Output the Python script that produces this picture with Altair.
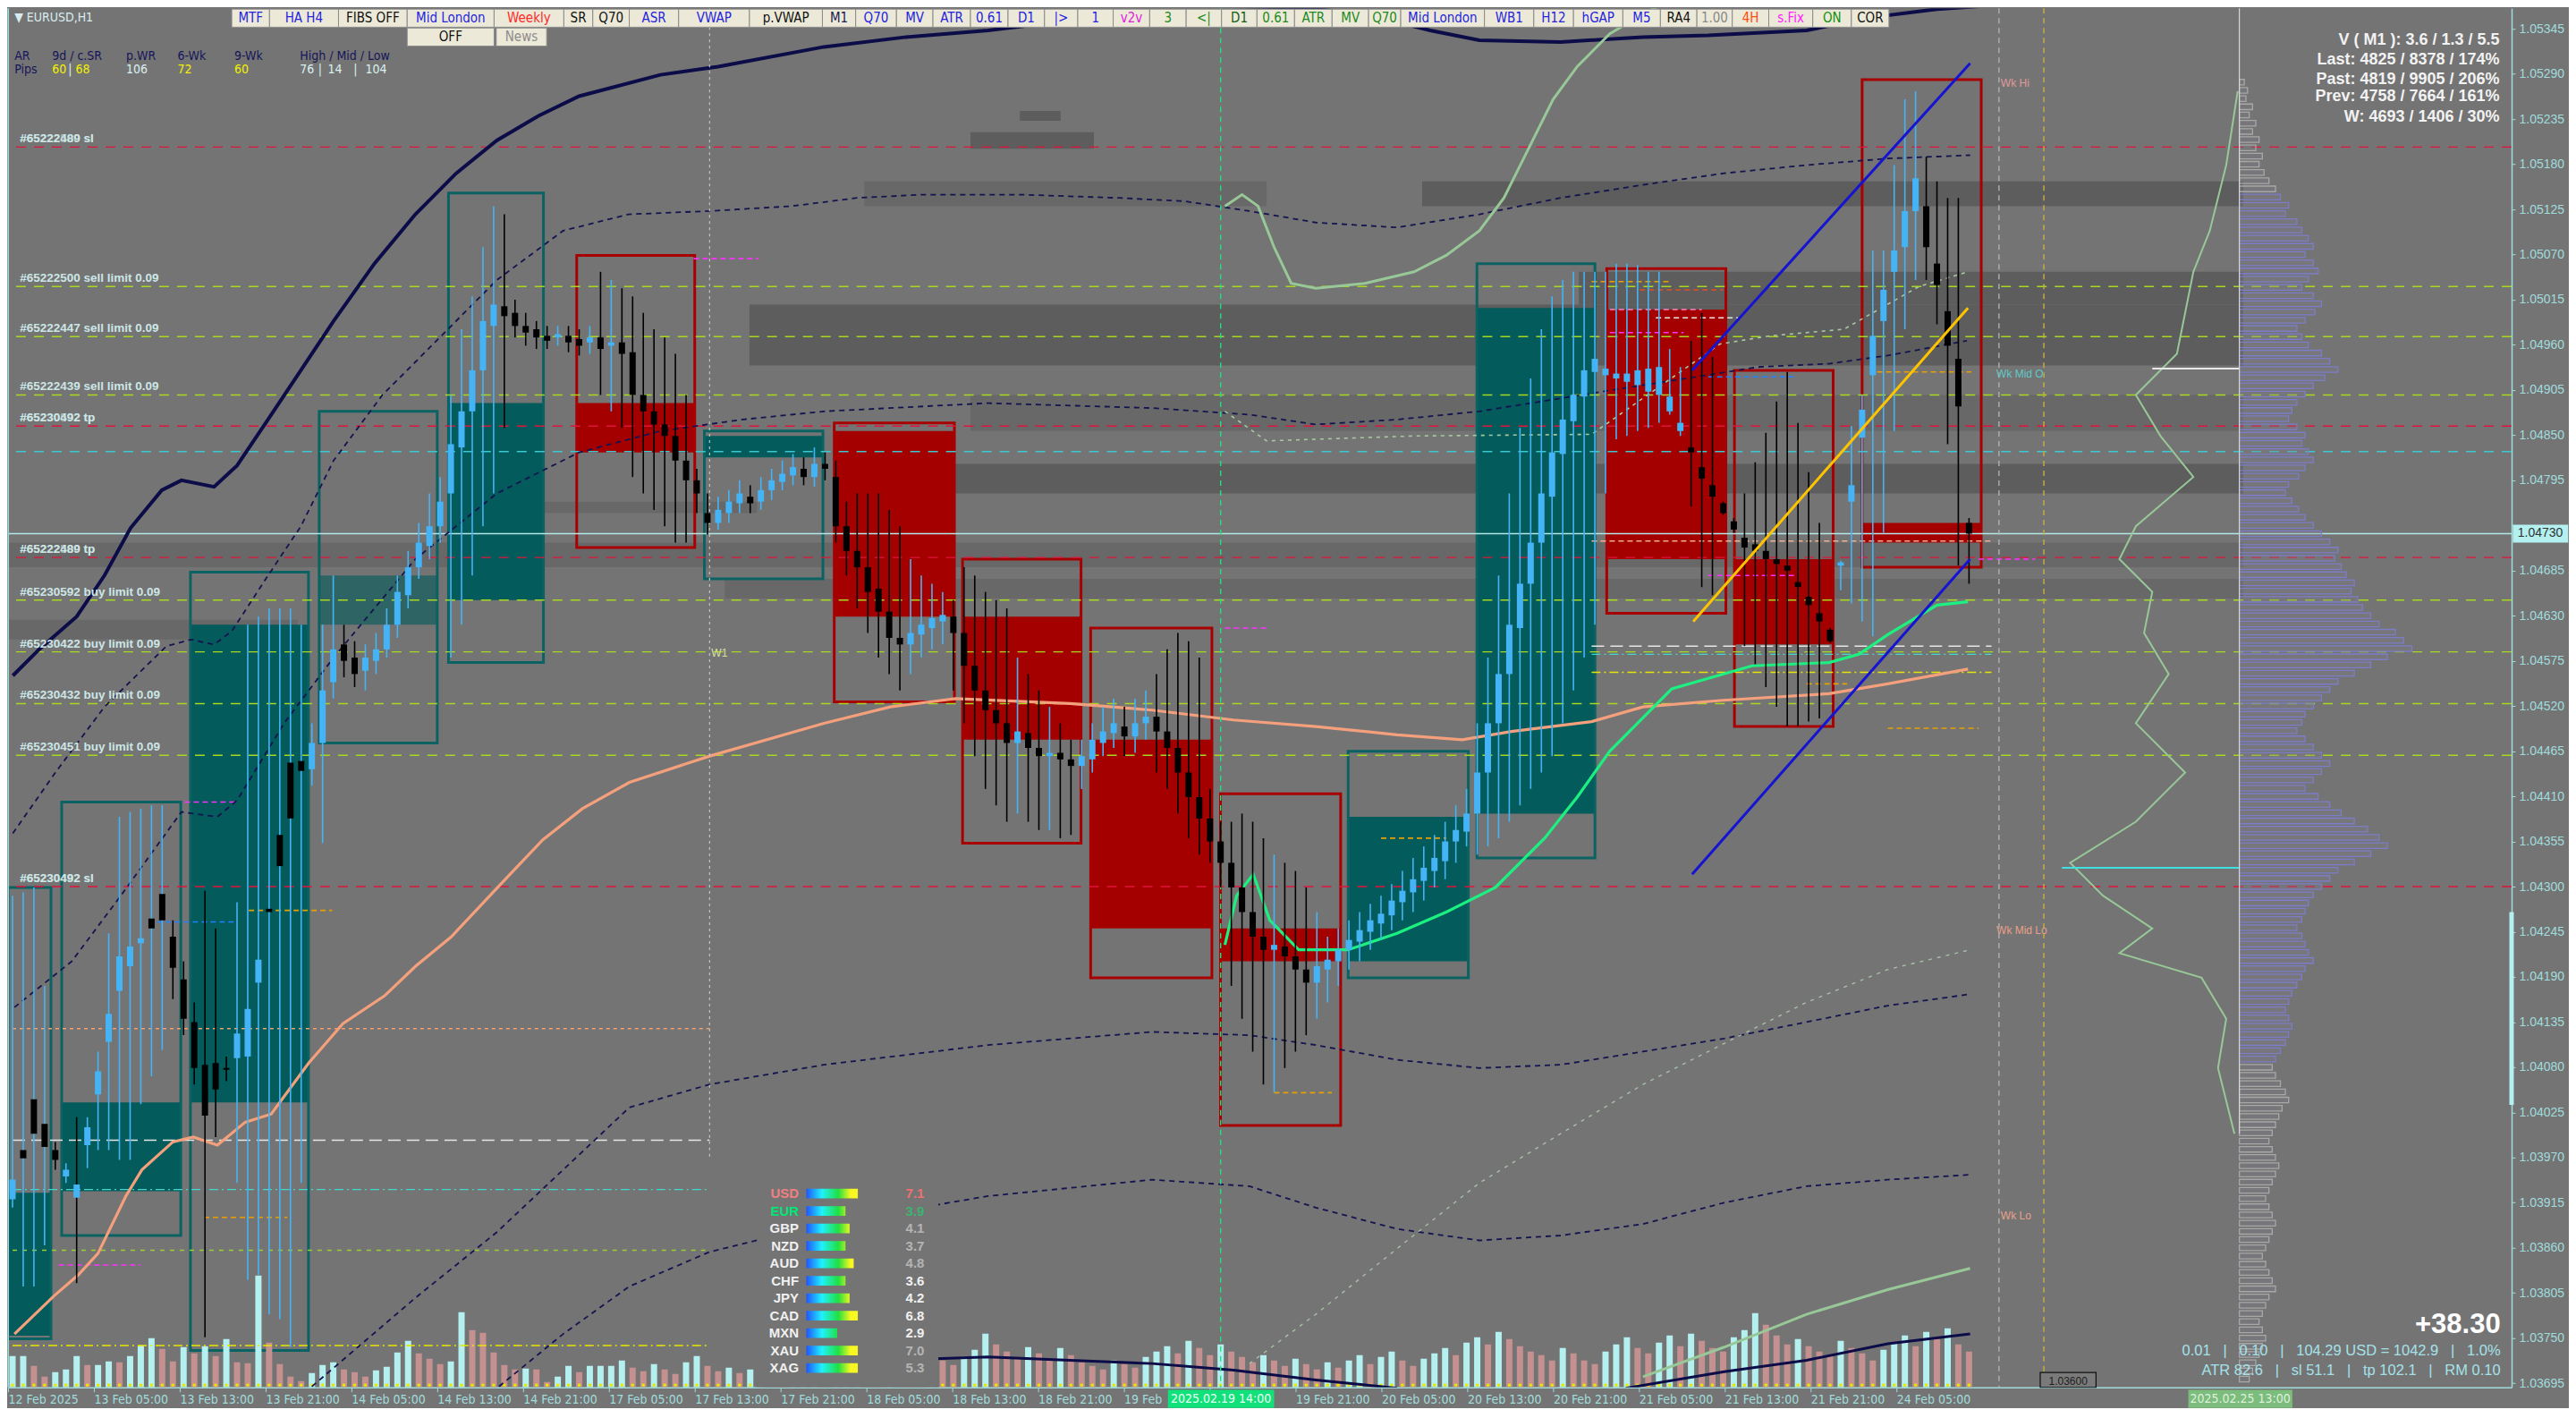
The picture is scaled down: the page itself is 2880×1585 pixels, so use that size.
import altair as alt
import numpy as np
import pandas as pd

W, H = 2800, 1542
X_DOM = [0.0, 233.333]
Y_DOM = [1.03690, 1.05370]
BG = "#747474"
AXC = "#a0dcdc"
NARROW = "Liberation Sans Narrow, DejaVu Sans Condensed, sans-serif"
SANS = "Liberation Sans, DejaVu Sans, sans-serif"
BLUE = "#45b4f6"
NB = "\u00a0"

# ---------------- data: EURUSD H1 candles (prices in points, 1e-5) ----------------
c_open = [103919,103979,104041,104011,103979,103947,103921,103985,104047,104111,
 104173,104203,104231,104261,104291,104239,104187,104135,104083,104085,
 104079,104091,104093,104183,104273,104363,104451,104453,104443,104475,
 104549,104595,104579,104563,104575,104589,104619,104655,104689,104715,
 104739,104779,104835,104879,104929,104983,105007,104999,104983,104979,
 104971,104969,104971,104967,104963,104969,104959,104963,104951,104899,
 104879,104863,104849,104819,104795,104755,104743,104755,104767,104775,
 104769,104783,104793,104801,104809,104799,104815,104799,104739,104709,
 104689,104663,104635,104603,104595,104607,104615,104623,104629,104609,
 104569,104539,104515,104499,104475,104487,104469,104459,104463,104455,
 104447,104455,104475,104487,104495,104483,104499,104507,104489,104469,
 104439,104409,104383,104355,104329,104299,104269,104239,104223,104227,
 104215,104199,104183,104199,104209,104223,104233,104245,104255,104265,
 104281,104293,104307,104319,104331,104355,104367,104389,104439,104499,
 104559,104615,104669,104719,104775,104827,104867,104897,104927,104923,
 104919,104915,104911,104903,104899,104879,104855,104835,104811,104789,
 104767,104745,104725,104717,104709,104699,104691,104671,104653,104633,
 104613,104691,104769,104847,104923,104989,105049,105079,105123,105129,
 105059,105001,104943,104743]
c_high = [104289,104293,104299,104179,103989,103963,104019,104019,104099,104243,
 104385,104391,104395,104399,104399,104259,104209,104159,104295,104249,
 104093,104281,104619,104629,104639,104639,104639,104619,104499,104619,
 104679,104619,104599,104595,104609,104639,104679,104709,104743,104779,
 104799,104899,104979,105019,105079,105129,105119,105015,104999,104989,
 104983,104983,104983,104979,104983,105049,105039,105029,105019,104999,
 104979,104969,104949,104899,104809,104779,104775,104783,104795,104789,
 104799,104809,104819,104827,104823,104835,104829,104819,104769,104779,
 104779,104779,104759,104739,104699,104679,104669,104659,104649,104689,
 104679,104659,104649,104639,104579,104559,104539,104519,104499,104479,
 104479,104499,104519,104529,104519,104529,104539,104559,104589,104609,
 104599,104579,104419,104379,104379,104389,104379,104359,104339,104329,
 104319,104299,104269,104239,104249,104259,104269,104279,104289,104303,
 104319,104335,104349,104363,104379,104399,104419,104499,104579,104679,
 104779,104859,104919,104979,105019,105039,105049,105049,105049,105049,
 105059,105059,105057,105049,105049,104955,104933,104965,104999,104945,
 104769,104749,104779,104817,104853,104891,104927,104865,104805,104743,
 104615,104697,104861,104899,105075,105075,105179,105259,105269,105189,
 105159,105139,105139,104749]
c_low = [103909,103813,103813,103863,103955,103939,103817,103957,103979,103979,
 103967,103967,104035,104069,104101,104163,104119,104059,103751,103995,
 104063,103939,103821,103827,103779,103773,103739,103939,104423,104353,
 104529,104555,104543,104539,104559,104579,104603,104639,104675,104699,
 104719,104579,104619,104679,104739,104779,104859,104969,104959,104955,
 104955,104959,104951,104947,104949,104899,104879,104859,104799,104779,
 104759,104739,104719,104719,104755,104729,104735,104743,104755,104755,
 104759,104771,104783,104789,104789,104787,104795,104719,104679,104639,
 104609,104579,104559,104539,104559,104579,104589,104595,104539,104499,
 104459,104419,104399,104379,104389,104379,104369,104369,104359,104363,
 104419,104439,104459,104469,104459,104463,104479,104439,104419,104389,
 104359,104339,104329,104299,104179,104139,104099,104059,104049,104079,
 104099,104119,104139,104159,104179,104199,104209,104223,104235,104247,
 104259,104269,104283,104299,104309,104329,104349,104339,104349,104359,
 104379,104399,104419,104439,104459,104499,104539,104579,104619,104779,
 104845,104849,104855,104859,104865,104875,104849,104763,104665,104655,
 104753,104731,104593,104571,104543,104519,104495,104495,104501,104505,
 104597,104661,104645,104623,104605,104731,104855,104979,105039,105039,
 104985,104839,104691,104669]
c_close = [103943,103969,103999,103983,103967,103955,103937,104007,104075,104145,
 104215,104227,104237,104249,104259,104201,104139,104079,104021,104053,
 104077,104121,104151,104211,104269,104325,104383,104441,104475,104539,
 104589,104575,104559,104579,104589,104619,104659,104689,104719,104739,
 104769,104839,104879,104929,104989,105009,104995,104983,104975,104969,
 104965,104973,104963,104959,104969,104955,104963,104949,104899,104879,
 104863,104849,104819,104795,104779,104743,104759,104769,104779,104767,
 104783,104795,104803,104811,104799,104815,104809,104739,104709,104689,
 104659,104635,104603,104595,104609,104619,104627,104631,104609,104569,
 104539,104515,104499,104475,104489,104469,104459,104463,104455,104447,
 104459,104479,104489,104499,104483,104499,104507,104489,104469,104439,
 104409,104383,104355,104329,104299,104269,104239,104223,104229,104215,
 104199,104183,104203,104211,104223,104235,104247,104259,104267,104283,
 104295,104309,104323,104335,104355,104369,104389,104439,104499,104559,
 104619,104669,104719,104779,104829,104869,104899,104929,104943,104931,
 104925,104925,104929,104931,104933,104897,104865,104829,104797,104775,
 104755,104735,104713,104709,104699,104693,104685,104665,104643,104623,
 104599,104695,104789,104881,104971,105027,105075,105123,105163,105079,
 105033,104959,104885,104730]
# bars whose wick is drawn in the other colour than the body
blue_wick_bars = [1, 2, 3, 13, 14, 24, 25, 26, 27]
black_wick_bars = [6]
# tick volume per bar (relative units)
volume = [35,35,24,12,17,20,35,25,25,29,28,35,47,55,43,29,45,38,46,35,
 54,28,27,125,50,26,12,7,16,25,28,20,17,12,19,23,39,52,38,32,
 26,29,84,64,61,39,25,20,21,20,6,12,24,17,24,24,24,
 30,22,18,26,20,15,28,35,24,18,22,16,20,25,
 18,14,20,26,30,22,38,45,52,40,35,48,42,30,28,36,30,25,34,42,
 60,48,40,32,45,38,30,44,36,28,24,20,30,26,22,34,40,46,38,52,44,36,
 48,40,34,28,36,30,24,32,26,20,28,22,30,36,26,34,40,30,24,32,38,44,36,50,
 56,48,62,54,46,40,36,30,44,38,30,26,40,48,56,44,38,50,58,46,60,52,44,40,
 56,64,83,70,58,48,54,46,40,36,52,44,38,30,42,50,58,46,62,54,66,48,40]

time_ticks = [0,8,16,24,32,40,48,56,64,72,80,88,96,104,112,120,128,136,144,152,160,168,176]
# as visible on the time axis (the 19 Feb labels are partly covered by the cursor-time box)
time_labels = ["12 Feb 2025","13 Feb 05:00","13 Feb 13:00","13 Feb 21:00","14 Feb 05:00",
 "14 Feb 13:00","14 Feb 21:00","17 Feb 05:00","17 Feb 13:00","17 Feb 21:00","18 Feb 05:00",
 "18 Feb 13:00","18 Feb 21:00","19 Feb","","19 Feb 21:00","20 Feb 05:00",
 "20 Feb 13:00","20 Feb 21:00","21 Feb 05:00","21 Feb 13:00","21 Feb 21:00","24 Feb 05:00"]
price_ticks = [1.03695,1.03750,1.03805,1.03860,1.03915,1.03970,1.04025,1.04080,1.04135,1.04190,
 1.04245,1.04300,1.04355,1.04410,1.04465,1.04520,1.04575,1.04630,1.04685,1.04740,1.04795,
 1.04850,1.04905,1.04960,1.05015,1.05070,1.05125,1.05180,1.05235,1.05290,1.05345]

# session boxes: bar start/end, box top/bottom, filled zone top/bottom (points)
box_x0 = [0.0,5.0,17.0,29.0,41.05,64.9,124.9,136.9, 53.0,77.0,88.96,100.9,113.0,149.0,160.9,172.8]
box_x1 = [4.0,16.1,28.0,40.0,49.9,75.95,136.1,147.9, 64.0,88.2,100.0,112.2,124.2,160.1,170.1,183.9]
box_top = [104299,104403,104683,104879,105145,104855,104465,105059, 105069,104865,104699,104615,104413,105053,104929,105283]
box_bot = [103749,103875,103735,104475,104573,104675,104189,104335, 104713,104525,104353,104189,104009,104633,104495,104689]
box_ftop = [103927,104037,104619,104679,104889,104849,104385,105005, 104889,104855,104629,104479,104249,105003,104699,104743]
box_fbot = [103753,103929,104037,104619,104649,104823,104209,104389, 104829,104629,104479,104249,104209,104699,104595,104719]
box_kind = ["teal"]*3 + ["teal_l"] + ["teal"]*4 + ["red"]*8

# darker price-zone bands: bar start/end, top/bottom (points), shade
band_x0 = [79.8,131.8,146.4,69.1,89.7,88.2,0.0,0.0,66.8,89.7,94.3,48.4]
band_x1 = [117.3,208.3,208.3,208.3,208.3,208.3,208.3,27.0,208.3,101.2,98.1,69.8]
band_top = [105159,105159,105049,105009,104899,104815,104719,104625,104675,105219,105245,104769]
band_bot = [105129,105129,105009,104935,104855,104779,104689,104601,104651,105199,105233,104755]
band_shade = ["m","s","s","s","m","s","m","m","m","s","s","m"]

# pending orders
ord_price = [1.05201,1.05031,1.04970,1.04899,1.04861,1.04830,1.04701,1.04649,1.04586,1.04523,1.04460,1.04300]
ord_kind = ["sl","limit","limit","limit","tp","cyan","tp","limit","limit","limit","limit","sl"]
ord_text = ["#65222489 sl","#65222500 sell limit 0.09","#65222447 sell limit 0.09","#65222439 sell limit 0.09",
 "#65230492 tp","","#65222489 tp","#65230592 buy limit 0.09","#65230422 buy limit 0.09",
 "#65230432 buy limit 0.09","#65230451 buy limit 0.09","#65230492 sl"]
ord_ghost = ["#65222500 sl","","","","#65230592 tp","","#65222500 tp","","","","","#65230432 sl"]
last_price = 1.04730

# session levels: (bar start, bar end, price points, colour, dash)
lvl_x0 = [0.0,0.0,0.0,0.0,0.0, 147.7,147.7,147.7,147.7]
lvl_x1 = [65.2,65.2,65.2,65.2,65.2, 185.1,185.1,185.1,185.1]
lvl_p = [103991,104127,103931,103857,103741, 104593,104583,104561,104721]
lvl_c = ["#e6e6e6","#f0a070","#40d8d0","#9acd32","#e6e600", "#e6e6e6","#40d8d0","#e6e600","#f0b090"]
lvl_d = [[14,7],[4,4],[10,4,2,4],[5,6],[10,4,2,4], [14,7],[10,4,2,4],[10,4,2,4],[6,4]]
# short marker levels
seg_x0 = [22.1,17.9,16.1,4.3,13.5,147.7,152.2,149.4,153.7,149.4,158.6,174.4,158.6,183.9,167.8,175.4,63.7,118.0,128.0,113.4]
seg_x1 = [29.9,25.7,21.0,12.0,20.9,154.9,160.0,158.0,161.4,156.3,166.7,183.2,166.7,189.2,171.6,183.9,69.8,123.4,134.1,117.3]
seg_p = [104271,103897,104403,103839,104257,105037,105027,105003,104993,104975,104921,104927,104679,104699,104547,104493,105065,104049,104359,104615]
seg_c = ["#e8a000","#e8a000","#ff30ff","#ff30ff","#2080ff","#e8a000","#e05020","#ff80c0","#e6e6e6","#ff30ff",
 "#2080ff","#e8a000","#ff30ff","#ff30ff","#e8a000","#e8a000","#ff30ff","#e8a000","#e8a000","#ff30ff"]

# indicator curves (bar, points)
navy_x = [0.03,2.48,6.0,8.6,11.05,13.96,15.8,18.85,21.0,23.9,26.97,30.03,33.85,37.68,41.5,45.3,49.2,53.0,60.6,66.0,75.9,83.6,91.25,98.9,106.6,114.2,121.9,126.5,132.6,137.2,144.8,152.5,158.6,167.8,173.9,180.0,184.6]
navy_p = [104557,104589,104629,104679,104737,104783,104795,104787,104813,104869,104929,104989,105059,105119,105169,105209,105239,105263,105289,105299,105323,105335,105343,105355,105363,105367,105369,105363,105343,105331,105329,105335,105337,105343,105359,105369,105373]
dashA_x = [0.03,4.01,8.6,14.4,16.7,18.85,20.5,23.9,26.97,30.03,34.6,39.2,45.3,51.5,57.6,65.2,72.9,79.0,85.1,94.3,103.5,109.6,115.7,121.9,129.5,137.2,144.8,152.5,160.1,167.8,175.4,183.1]
dashA_p = [104365,104439,104519,104593,104601,104595,104611,104679,104739,104819,104899,104959,105039,105099,105119,105123,105129,105139,105143,105143,105139,105135,105123,105109,105103,105119,105139,105155,105169,105179,105187,105191]
dashB_x = [0.18,5.54,10.13,15.8,19.16,21.0,25.4,30.03,37.68,45.3,53.0,60.6,68.3,75.9,91.25,106.6,115.7,121.9,129.5,137.2,147.7,163.3,169.9,175.4,182.8]
dashB_p = [104153,104209,104289,104391,104385,104405,104499,104579,104699,104779,104829,104855,104869,104879,104889,104883,104875,104863,104869,104879,104901,104933,104937,104947,104965]
dashC_x = [28.0,37.68,45.3,51.5,57.7,65.2,75.9,91.25,106.6,115.7,121.9,129.5,137.2,144.8,152.5,160.1,167.8,175.4,183.1]
dashC_p = [103691,103799,103879,103955,104031,104059,104083,104107,104123,104119,104107,104089,104079,104083,104099,104115,104135,104155,104169]
dashD_x = [45.5,51.5,57.7,65.2,75.9,91.25,106.6,115.7,121.9,129.5,137.2,144.8,152.5,160.1,167.8,175.4,183.1]
dashD_p = [103691,103755,103813,103855,103889,103923,103943,103935,103909,103883,103869,103875,103889,103915,103935,103943,103949]
navyLo1_x = [82.1,91.25,98.9,106.6,114.2,121.9,129.5]
navyLo1_p = [103723,103727,103723,103719,103711,103699,103689]
navyLo2_x = [150.9,160.1,167.8,175.4,183.1]
navyLo2_p = [103689,103709,103723,103743,103755]
salmon_x = [0.18,3.85,6.15,7.99,10.6,12.1,15.0,16.9,19.16,21.76,24.2,27.7,30.9,34.8,37.7,41.05,45.95,49.6,53.3,57.7,65.2,75.9,82.1,88.2,98.9,106.6,114.2,121.9,129.5,135.6,140.2,147.7,152.5,160.0,169.9,175.4,182.9]
salmon_p = [103755,103801,103827,103853,103923,103955,103989,103995,103985,104013,104023,104085,104133,104167,104203,104239,104307,104357,104395,104427,104459,104499,104519,104529,104523,104515,104503,104495,104485,104479,104489,104501,104519,104527,104535,104547,104565]
green_x = [113.4,114.5,116.05,117.6,120.3,124.9,129.5,134.1,138.7,143.3,146.35,149.4,155.2,162.7,169.9,172.7,175.4,180.0,182.9]
green_p = [104229,104289,104315,104259,104223,104223,104243,104269,104299,104359,104409,104465,104541,104569,104573,104583,104607,104643,104647]
paleTop_x = [113.4,115.0,116.5,118.0,119.6,121.9,126.5,131.1,134.1,137.2,139.5,141.8,144.1,146.35,149.4,152.5,154.0]
paleTop_p = [105129,105143,105129,105079,105035,105029,105035,105049,105069,105099,105139,105199,105259,105299,105339,105363,105373]
paleBot_x = [152.5,160.1,167.8,175.4,183.1]
paleBot_p = [103703,103739,103779,103809,103835]
paleDashLo_x = [115.7,121.9,129.5,137.2,144.8,152.5,160.1,167.8,175.4,183.1]
paleDashLo_p = [103719,103779,103859,103939,103999,104059,104109,104159,104199,104223]
paleDashHi_x = [113.4,117.3,131.1,147.7,159.7,164.4,171.3,178.3,182.9]
paleDashHi_p = [104879,104843,104849,104851,104961,104971,104979,105031,105049]
trendUp_x, trendUp_p = [157.1,183.1], [104929,105303]
trendLo_x, trendLo_p = [157.1,183.1], [104315,104699]
trendYel_x, trendYel_p = [157.2,182.9], [104623,105005]

# volume-at-price profile (1-pip levels from 1.05280 down)
prof_len = [3,5,4,8,6,10,8,12,10,14,12,15,
 18,22,25,30,28,35,38,42,45,40,
 45,48,42,38,45,50,46,40,35,38,42,50,55,60,52,45,40,35,
 32,30,35,40,38,42,45,40,36,30,28,32,36,40,45,50,
 55,60,58,62,65,70,68,72,75,80,85,95,100,105,90,80,70,60,
 55,50,45,40,38,35,40,45,50,55,50,45,40,48,55,62,70,78,85,90,80,70,
 60,55,50,45,42,40,38,35,38,40,42,45,40,38,35,32,30,28,30,32,30,28,25,22,
 20,22,25,28,30,26,24,22,20,18,20,22,24,22,20,18,16,18,20,22,20,18,16,14,16,18,20,22,18,16,14,12,14,16,14,12,10,8,6]
prof_curve_u = [-1,-8,-18,-28,-33,-38,-63,-48,-28,-63,-73,-53,-58,-43,-63,-33,-63,-103,-83,-53,-73,-23,-8,-13,-3]
prof_curve_p = [105269,105179,105099,105049,104999,104949,104899,104849,104799,104739,104699,104659,104609,104559,104499,104439,104379,104329,104289,104249,104219,104189,104139,104079,103999]

# currency strength table
cur_names = ["USD","EUR","GBP","NZD","AUD","CHF","JPY","CAD","MXN","XAU","XAG"]
cur_vals = ["7.1","3.9","4.1","3.7","4.8","3.6","4.2","6.8","2.9","7.0","5.3"]
cur_frac = [1.0,0.76,0.84,0.76,0.92,0.76,0.84,1.0,0.6,1.0,1.0]
cur_lcol = ["#f08080","#00e676"] + ["#f0f0f0"]*9
cur_vcol = ["#f07070","#3cb371","#b4b4b4","#b4b4b4","#b4b4b4","#f0f0f0","#f0f0f0","#f0f0f0","#f0f0f0","#b4b4b4","#b4b4b4"]

stats_lines = ["V ( M1 ): 3.6 / 1.3 / 5.5","Last: 4825 / 8378 / 174%","Past: 4819 / 9905 / 206%",
 "Prev: 4758 / 7664 / 161%","W: 4693 / 1406 / 30%"]
acct_pnl = "+38.30"
SEP = NB * 2 + " | " + NB * 2
acct_line1 = SEP.join(["0.01", "0.10", "104.29 USD = 1042.9", "1.0%"])
acct_line2 = SEP.join(["ATR 82.6", "sl 51.1", "tp 102.1", "RM 0.10"])

btn_labels = ["MTF","HA H4","FIBS OFF","Mid London","Weekly","SR","Q70","ASR","VWAP","p.VWAP","M1","Q70","MV","ATR",
 "0.61","D1","|>","1","v2v","3","<|","D1","0.61","ATR","MV","Q70","Mid London","WB1","H12","hGAP","M5","RA4",
 "1.00","4H","s.Fix","ON","COR","OFF","News"]
btn_x0 = [20.85,24.37,30.8,37.2,45.3,51.8,54.5,57.9,62.5,69.1,75.9,79.0,82.8,86.2,89.7,93.2,96.6,99.7,103.0,106.4,
 109.8,113.1,116.4,119.9,123.4,126.8,129.8,137.6,142.2,145.9,150.5,154.0,157.4,160.7,164.1,168.2,171.8,37.2,45.5]
btn_x1 = [24.37,30.8,37.2,45.3,51.8,54.5,57.9,62.5,69.1,75.9,79.0,82.8,86.2,89.7,93.2,96.6,99.7,103.0,106.4,109.8,
 113.1,116.4,119.9,123.4,126.8,129.8,137.6,142.2,145.9,150.5,154.0,157.4,160.7,164.1,168.2,171.8,175.3,45.3,50.2]
BB, BK, GR = "#2424e0", "#101010", "#1c8a1c"
btn_col = [BB,BB,BK,BB,"#ff2a2a",BK,BK,BB,BB,BK,"#202050",BB,BB,BB,BB,BB,BB,BB,"#e020e0",GR,GR,"#106010",GR,GR,GR,GR,
 BB,BB,BB,BB,BB,BK,"#8a8a8a","#ff4a10","#ff20ff","#109010",BK,BK,"#8c8c8c"]
btn_row = [0]*37 + [1, 1]

# ---------------- scales & helpers ----------------
xs = alt.Scale(domain=X_DOM, nice=False, zero=False)
ys = alt.Scale(domain=Y_DOM, nice=False, zero=False)
vs = alt.Scale(domain=[0, H], nice=False, zero=True)
ps = alt.Scale(domain=[-120, 120], range=[2275, 2716], nice=False, zero=False)


def X(f):
    return alt.X(f"{f}:Q", scale=xs, axis=None)


def Y(f):
    return alt.Y(f"{f}:Q", scale=ys, axis=None)


def pts(a):
    return np.array(a, dtype=float) / 1e5


def line(xv, pv, color, width=2.0, dash=None, opacity=1.0):
    df = pd.DataFrame({"x": xv, "y": pts(pv), "k": np.arange(len(xv))})
    kw = dict(color=color, strokeWidth=width, clip=True, opacity=opacity)
    if dash:
        kw["strokeDash"] = dash
    return alt.Chart(df).mark_line(**kw).encode(x=X("x"), y=Y("y"), order="k:Q")


def texts(df, **kw):
    return alt.Chart(df).mark_text(**kw).encode(
        x=X("x"), y=Y("y"), text="t:N", color=alt.Color("c:N", scale=None))


# ---------------- axes (own group) ----------------
label_expr = "[" + ",".join("'%s'" % s for s in time_labels) + "][round(datum.value/8)]"
x_axis = alt.Axis(values=time_ticks, labelExpr=label_expr, orient="bottom", labelAlign="left",
                  labelColor=AXC, tickColor=AXC, domainColor=AXC, labelFont=NARROW, labelFontSize=14,
                  tickSize=5, labelPadding=2, labelOverlap=False, labelFlush=False, grid=False,
                  title=None, domainWidth=1.5)
# the 1.04740 label sits under the last-price box
y_expr = "abs(datum.value - %.5f) < 0.000001 ? '' : format(datum.value, '.5f')" % 1.04740
y_axis = alt.Axis(values=price_ticks, labelExpr=y_expr, orient="right", labelColor=AXC, tickColor=AXC,
                  domainColor=AXC, labelFont=SANS, labelFontSize=14, tickSize=4, labelPadding=4,
                  labelOverlap=False, labelFlush=False, grid=False, title=None, domainWidth=1.5)
axis_df = pd.DataFrame({"x": [X_DOM[0] + 1, X_DOM[1] - 1], "y": [Y_DOM[0] + 0.0001, Y_DOM[1] - 0.0001]})
axis_layer = alt.Chart(axis_df).mark_point(size=1, opacity=0).encode(
    x=alt.X("x:Q", scale=xs, axis=x_axis), y=alt.Y("y:Q", scale=ys, axis=y_axis))

# ---------------- under layer (bands, boxes) ----------------
bands = pd.DataFrame({"x0": band_x0, "x1": band_x1, "y0": pts(band_top), "y1": pts(band_bot),
                      "c": ["#5d5d5d" if s == "s" else "#686868" for s in band_shade]})
band_layer = alt.Chart(bands).mark_rect(clip=True).encode(
    x=X("x0"), x2="x1:Q", y=Y("y0"), y2="y1:Q", color=alt.Color("c:N", scale=None))

boxes = pd.DataFrame({"x0": box_x0, "x1": box_x1, "t": pts(box_top), "b": pts(box_bot),
                      "ft": pts(box_ftop), "fb": pts(box_fbot), "k": box_kind})
fill_map = {"teal": "#035b5b", "teal_l": "#2f6464", "red": "#a40000"}
line_map = {"teal": "#0b6262", "teal_l": "#0b6262", "red": "#a80000"}
boxes["fc"] = boxes.k.map(fill_map)
boxes["lc"] = boxes.k.map(line_map)
box_fill = alt.Chart(boxes).mark_rect(clip=True).encode(
    x=X("x0"), x2="x1:Q", y=Y("ft"), y2="fb:Q", color=alt.Color("fc:N", scale=None))
box_line = alt.Chart(boxes).mark_rect(clip=True, filled=False, strokeWidth=3).encode(
    x=X("x0"), x2="x1:Q", y=Y("t"), y2="b:Q", stroke=alt.Stroke("lc:N", scale=None))
under = alt.layer(band_layer, box_fill, box_line)

# ---------------- volume layer ----------------
vol = pd.DataFrame({"i": np.arange(len(volume)), "v": volume})
vol["c"] = np.where(vol.v >= vol.v.shift(1).fillna(0), "#b4f0f0", "#c49090")
vol["base"] = 2.5
vol_bars = alt.Chart(vol).mark_bar(size=7, clip=True).encode(
    x=X("i"), y=alt.Y("v:Q", scale=vs, axis=None), color=alt.Color("c:N", scale=None))
vol_dots = alt.Chart(vol).mark_square(size=10, color="#e8e800", opacity=1).encode(
    x=X("i"), y=alt.Y("base:Q", scale=vs, axis=None))
vol_layer = alt.layer(vol_bars, vol_dots)

# ---------------- over layer (lines, candles) ----------------
over_layers = []
for x0, x1, p, c, d in zip(lvl_x0, lvl_x1, lvl_p, lvl_c, lvl_d):
    df = pd.DataFrame({"x0": [x0], "x1": [x1], "y": [p / 1e5]})
    over_layers.append(alt.Chart(df).mark_rule(color=c, strokeDash=d, strokeWidth=1.4, clip=True).encode(
        x=X("x0"), x2="x1:Q", y=Y("y")))
segs = pd.DataFrame({"x0": seg_x0, "x1": seg_x1, "y": pts(seg_p), "c": seg_c})
over_layers.append(alt.Chart(segs).mark_rule(strokeDash=[6, 4], strokeWidth=1.6, clip=True).encode(
    x=X("x0"), x2="x1:Q", y=Y("y"), color=alt.Color("c:N", scale=None)))

orders = pd.DataFrame({"y": ord_price, "k": ord_kind})
ord_colors = {"sl": "#e0143c", "tp": "#e0143c", "limit": "#a8d820", "cyan": "#3cc8d0"}
orders["c"] = orders.k.map(ord_colors)
over_layers.append(alt.Chart(orders).mark_rule(strokeDash=[11, 9], strokeWidth=1.4).encode(
    y=Y("y"), color=alt.Color("c:N", scale=None)))
over_layers.append(alt.Chart(pd.DataFrame({"y": [last_price]})).mark_rule(
    color="#b4e8e8", strokeWidth=1.3).encode(y=Y("y")))

over_layers += [
    line(dashA_x, dashA_p, "#141450", 1.8, [6, 5]),
    line(dashB_x, dashB_p, "#141450", 1.8, [6, 5]),
    line(dashC_x, dashC_p, "#141450", 1.8, [6, 5]),
    line(dashD_x, dashD_p, "#141450", 1.8, [6, 5]),
    line(paleDashLo_x, paleDashLo_p, "#a8c0a8", 1.4, [4, 6]),
    line(paleDashHi_x, paleDashHi_p, "#a8c8a0", 1.6, [4, 5]),
    line(navy_x, navy_p, "#0c0c48", 4.0),
    line(navyLo1_x, navyLo1_p, "#0c0c48", 3.0),
    line(navyLo2_x, navyLo2_p, "#0c0c48", 3.0),
    line(salmon_x, salmon_p, "#f4a07c", 3.2),
    line(green_x, green_p, "#1cf080", 3.2),
    line(paleTop_x, paleTop_p, "#98c898", 3.0),
    line(paleBot_x, paleBot_p, "#98c898", 3.0),
]

vlines = pd.DataFrame({"x": [113.0, 185.8, 190.0], "c": ["#20e080", "#b0b0b0", "#c8b040"]})
over_layers.append(alt.Chart(vlines).mark_rule(strokeDash=[6, 5], strokeWidth=1.4).encode(
    x=X("x"), color=alt.Color("c:N", scale=None)))
over_layers.append(alt.Chart(pd.DataFrame({"x": [65.2], "y0": [Y_DOM[1]], "y1": [1.03969]})).mark_rule(
    strokeDash=[3, 4], strokeWidth=1.2, color="#c4c4c4").encode(x=X("x"), y=Y("y0"), y2="y1:Q"))

cd = pd.DataFrame({"i": np.arange(len(c_close)), "o": pts(c_open), "h": pts(c_high),
                   "l": pts(c_low), "c": pts(c_close)})
cd["col"] = np.where(cd.c >= cd.o, BLUE, "#000000")
cd["wcol"] = cd["col"]
cd.loc[cd.i.isin(blue_wick_bars), "wcol"] = BLUE
cd.loc[cd.i.isin(black_wick_bars), "wcol"] = "#000000"
over_layers.append(alt.Chart(cd).mark_rule(strokeWidth=1.6, clip=True).encode(
    x=X("i"), y=Y("l"), y2="h:Q", color=alt.Color("wcol:N", scale=None)))
over_layers.append(alt.Chart(cd).mark_bar(size=7, clip=True).encode(
    x=X("i"), y=Y("o"), y2="c:Q", color=alt.Color("col:N", scale=None)))

over_layers += [
    line(trendUp_x, trendUp_p, "#1414d2", 3.0),
    line(trendLo_x, trendLo_p, "#1414d2", 3.0),
    line(trendYel_x, trendYel_p, "#ffc400", 3.0),
]

olab = pd.DataFrame({"x": [0.7] * len(ord_price), "y": ord_price, "t": ord_text, "c": ["#cce6e6"] * len(ord_price)})
oghost = pd.DataFrame({"x": [0.7] * len(ord_price), "y": ord_price, "t": ord_ghost, "c": ["#cce6e6"] * len(ord_price)})
over_layers.append(texts(oghost[oghost.t != ""], align="left", baseline="bottom", dy=-2, font=SANS,
                         fontSize=13.5, fontWeight="bold", opacity=0.55))
over_layers.append(texts(olab[olab.t != ""], align="left", baseline="bottom", dy=-2, font=SANS,
                         fontSize=13.5, fontWeight="bold"))

small_lab = pd.DataFrame({"x": [65.2, 185.8, 185.4, 185.4, 185.8],
                          "y": [1.04585, 1.05279, 1.04925, 1.04247, 1.03899],
                          "t": ["W1", "Wk Hi", "Wk Mid O", "Wk Mid Lo", "Wk Lo"],
                          "c": ["#d8e0a0", "#e09a9a", "#60c8c8", "#e8a088", "#e8a088"]})
over_layers.append(texts(small_lab, align="left", baseline="middle", dx=2, font=SANS, fontSize=12))
over = alt.layer(*over_layers)

# ---------------- volume profile layer ----------------
lv = 105280 - 10 * np.arange(len(prof_len))
prof = pd.DataFrame({"p": lv / 1e5, "len": prof_len})
prof["y0"] = prof.p + 0.000034
prof["y1"] = prof.p - 0.000034
prof["x0"] = 0
prof["s"] = np.where((lv <= 105140) & (lv >= 104090), "#7c7cc8", "#a8a8a8")
prof_bars = alt.Chart(prof).mark_rect(fill="#7d7d8c", fillOpacity=0.3, strokeWidth=1.3).encode(
    x=alt.X("x0:Q", scale=ps, axis=None), x2="len:Q",
    y=Y("y0"), y2="y1:Q", stroke=alt.Stroke("s:N", scale=None))
pc = pd.DataFrame({"u": prof_curve_u, "y": pts(prof_curve_p), "k": np.arange(len(prof_curve_u))})
prof_curve = alt.Chart(pc).mark_line(color="#98c898", strokeWidth=2).encode(
    x=alt.X("u:Q", scale=ps, axis=None), y=Y("y"), order="k:Q")
prules = pd.DataFrame({"u0": [-108, -53], "u1": [0, 0], "y": [1.04323, 1.04931], "c": ["#40e0e0", "#e8e8e8"]})
prof_rules = alt.Chart(prules).mark_rule(strokeWidth=2).encode(
    x=alt.X("u0:Q", scale=ps, axis=None), x2="u1:Q", y=Y("y"), color=alt.Color("c:N", scale=None))
pvert = pd.DataFrame({"u": [0], "y0": [Y_DOM[1]], "y1": [1.03999]})
prof_vert = alt.Chart(pvert).mark_rule(strokeWidth=1.2, color="#d8d8d8").encode(
    x=alt.X("u:Q", scale=ps, axis=None), y=Y("y0"), y2="y1:Q")
prof_layer = alt.layer(prof_bars, prof_curve, prof_rules, prof_vert)

# ---------------- overlay layer (panels, texts, UI) ----------------
ov = []
panel = pd.DataFrame({"x0": [69.8], "x1": [86.7], "y0": [1.03946], "y1": [Y_DOM[0]]})
ov.append(alt.Chart(panel).mark_rect(color=BG).encode(x=X("x0"), x2="x1:Q", y=Y("y0"), y2="y1:Q"))
row_y = [1.03926 - k * 0.0002125 for k in range(len(cur_names))]
full_stops = [(0.0, (32, 84, 255)), (0.3, (32, 240, 255)), (0.62, (32, 224, 64)), (0.86, (248, 248, 32)), (1.0, (248, 248, 32))]


def col_at(f):
    for (o0, c0), (o1, c1) in zip(full_stops[:-1], full_stops[1:]):
        if o0 <= f <= o1:
            t = (f - o0) / (o1 - o0) if o1 > o0 else 0
            return "#%02x%02x%02x" % tuple(int(a + (b - a) * t) for a, b in zip(c0, c1))
    return "#f8f820"


for k, f in enumerate(cur_frac):
    stops = [{"offset": o / f, "color": "#%02x%02x%02x" % c} for o, c in full_stops if o < f]
    stops.append({"offset": 1.0, "color": col_at(f)})
    grad = {"gradient": "linear", "x1": 0, "x2": 1, "y1": 0, "y2": 0, "stops": stops}
    bdf = pd.DataFrame({"x0": [74.4], "x1": [74.4 + 4.8 * f], "y0": [row_y[k] + 0.0000585], "y1": [row_y[k] - 0.0000585]})
    ov.append(alt.Chart(bdf).mark_rect(color=grad).encode(x=X("x0"), x2="x1:Q", y=Y("y0"), y2="y1:Q"))
ov.append(texts(pd.DataFrame({"x": [73.7] * 11, "y": row_y, "t": cur_names, "c": cur_lcol}),
                align="right", baseline="middle", font=SANS, fontSize=15, fontWeight="bold"))
ov.append(texts(pd.DataFrame({"x": [85.4] * 11, "y": row_y, "t": cur_vals, "c": cur_vcol}),
                align="right", baseline="middle", font=SANS, fontSize=15, fontWeight="bold"))

ov.append(texts(pd.DataFrame({"x": [232.2] * 5, "y": [1.05331, 1.05307, 1.05283, 1.05262, 1.05237],
                              "t": stats_lines, "c": ["#f2f2f2"] * 5}),
                align="right", baseline="middle", font=SANS, fontSize=18, fontWeight="bold"))
ov.append(texts(pd.DataFrame({"x": [232.3], "y": [1.03766], "t": [acct_pnl], "c": ["#ffffff"]}),
                align="right", baseline="middle", font=SANS, fontSize=31, fontWeight="bold"))
ov.append(texts(pd.DataFrame({"x": [232.3, 232.3], "y": [1.03734, 1.03710], "t": [acct_line1, acct_line2],
                              "c": ["#a4e2ea", "#a4e2ea"]}),
                align="right", baseline="middle", font=SANS, fontSize=16.5))

tl = pd.DataFrame({
    "x": [0.6, 0.6, 4.1, 11.0, 15.8, 21.1, 27.2, 0.6, 4.1, 5.6, 6.3, 11.0, 15.8, 21.1, 27.2, 28.9, 29.8, 32.2, 33.3],
    "y": [1.05358] + [1.05311] * 6 + [1.05295] * 12,
    "t": ["\u25bc EURUSD,H1", "AR", "9d / c.SR", "p.WR", "6-Wk", "9-Wk", "High / Mid / Low",
          "Pips", "60", "|", "68", "106", "72", "60", "76", "|", "14", "|", "104"],
    "c": ["#d8ecf0"] + ["#16165a"] * 7 + ["#f0f000", "#d8f0f0", "#f0f000", "#d8f0f0", "#f0f000", "#f0f000",
                                           "#d8f0f0", "#d8f0f0", "#d8f0f0", "#d8f0f0", "#d8f0f0"]})
ov.append(texts(tl, align="left", baseline="middle", font=NARROW, fontSize=14))

bt = pd.DataFrame({"x0": btn_x0, "x1": btn_x1, "t": btn_labels, "c": btn_col, "r": btn_row})
bt["y0"] = np.where(bt.r == 0, 1.05369, 1.05346)
bt["y1"] = np.where(bt.r == 0, 1.05347, 1.05324)
bt["x"] = (bt.x0 + bt.x1) / 2
bt["y"] = (bt.y0 + bt.y1) / 2
ov.append(alt.Chart(bt).mark_rect(fill="#ece9d8", stroke="#8c8c8c", strokeWidth=1).encode(
    x=X("x0"), x2="x1:Q", y=Y("y0"), y2="y1:Q"))
ov.append(texts(bt, align="center", baseline="middle", font=NARROW, fontSize=15))

ov.append(alt.Chart(pd.DataFrame({"x": [233.33], "y0": [1.04269], "y1": [1.04034]})).mark_rule(
    color="#b4f0f0", strokeWidth=5).encode(x=X("x"), y=Y("y0"), y2="y1:Q"))
lp = pd.DataFrame({"x0": [233.45], "x1": [238.6], "y0": [1.04741], "y1": [1.04719]})
ov.append(alt.Chart(lp).mark_rect(color="#b4f0f0").encode(x=X("x0"), x2="x1:Q", y=Y("y0"), y2="y1:Q"))
ov.append(texts(pd.DataFrame({"x": [236.0], "y": [last_price], "t": ["%.5f" % last_price], "c": ["#303030"]}),
                align="center", baseline="middle", font=SANS, fontSize=14))
# small price tag at the bottom of the profile area
tag = pd.DataFrame({"x0": [189.4], "x1": [194.6], "y0": [1.03708], "y1": [Y_DOM[0]]})
ov.append(alt.Chart(tag).mark_rect(fill="#7a7a7a", stroke="#101010", strokeWidth=1.2).encode(
    x=X("x0"), x2="x1:Q", y=Y("y0"), y2="y1:Q"))
ov.append(texts(pd.DataFrame({"x": [192.0], "y": [1.03697], "t": ["1.03600"], "c": ["#202020"]}),
                align="center", baseline="middle", font=SANS, fontSize=12))
cur = pd.DataFrame({"x0": [108.1, 203.2], "x1": [118.0, 212.9], "y0": [1.03687, 1.03687], "y1": [1.03665, 1.03665],
                    "fc": ["#12e07a", "#7cbc7c"]})
ov.append(alt.Chart(cur).mark_rect().encode(x=X("x0"), x2="x1:Q", y=Y("y0"), y2="y1:Q",
                                            color=alt.Color("fc:N", scale=None)))
ov.append(texts(pd.DataFrame({"x": [113.05, 208.05], "y": [1.03676, 1.03676],
                              "t": ["2025.02.19 14:00", "2025.02.25 13:00"], "c": ["#e8fff4", "#dcf0dc"]}),
                align="center", baseline="middle", font=NARROW, fontSize=14))
ov.append(alt.Chart(pd.DataFrame({"x": [X_DOM[0] + 0.02]})).mark_rule(color=AXC, strokeWidth=1.5).encode(x=X("x")))
overlay = alt.layer(*ov)

chart = alt.layer(axis_layer, under, vol_layer, over, prof_layer, overlay).resolve_scale(
    x="independent", y="independent"
).properties(width=W, height=H, padding=0, background=BG).configure_view(stroke=None, fill=BG)

chart.save("out.html", embed_options={"renderer": "svg", "actions": False})
